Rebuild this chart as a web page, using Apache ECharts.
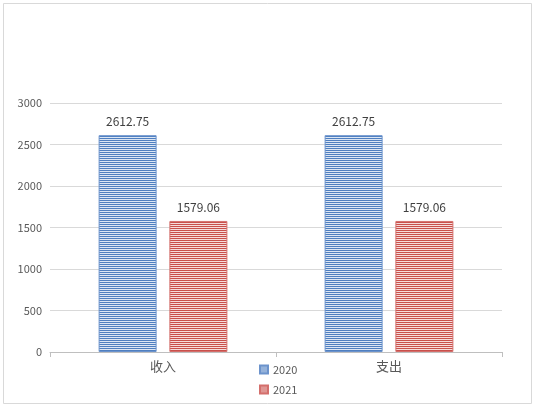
<!DOCTYPE html>
<html><head><meta charset="utf-8">
<script src="https://cdn.jsdelivr.net/npm/echarts@6/dist/echarts.min.js"></script>
<style>html,body{margin:0;padding:0;background:#fff}#c{width:540px;height:408px}</style>
</head><body><div id="c"></div>
<script>
const categories = ['收入', '支出'];
const seriesNames = ['2020', '2021'];
const values2020 = [2612.75, 2612.75];
const values2021 = [1579.06, 1579.06];
const yTicks = [0, 500, 1000, 1500, 2000, 2500, 3000];

function stripe(color, gap) {
  const cv = document.createElement('canvas');
  cv.width = 4; cv.height = 2;
  const g = cv.getContext('2d');
  g.fillStyle = gap; g.fillRect(0, 0, 4, 2);
  g.fillStyle = color; g.fillRect(0, 0, 4, 1);
  return {image: cv, repeat: 'repeat'};
}
const blueFill = stripe('#4F7FC0', '#DCE6F4');
const redFill = stripe('#C9504C', '#F6DCDB');
const font = "'Noto Sans CJK SC', 'Noto Sans', sans-serif";

const chart = echarts.init(document.getElementById('c'), null, {renderer: 'canvas'});
chart.setOption({
  animation: false,
  backgroundColor: '#fff',
  textStyle: {fontFamily: font},
  graphic: [{type: 'rect', shape: {x: 3.5, y: 3.5, width: 528, height: 400}, style: {fill: 'none', stroke: '#D9D9D9', lineWidth: 1}, silent: true}],
  grid: {left: 50, right: 38, top: 103, bottom: 56},
  legend: {
    orient: 'vertical', left: 254, top: 359, itemWidth: 8, itemHeight: 8, itemGap: 9,
    icon: 'rect', data: seriesNames,
    textStyle: {fontSize: 11, color: '#595959', fontFamily: font}
  },
  xAxis: {
    type: 'category', data: categories,
    axisLine: {lineStyle: {color: '#BFBFBF', width: 1}},
    axisTick: {show: true, length: 5, lineStyle: {color: '#BFBFBF'}},
    axisLabel: {fontSize: 13, color: '#595959', margin: 8, fontFamily: font}
  },
  yAxis: {
    type: 'value', min: yTicks[0], max: yTicks[yTicks.length - 1], interval: 500,
    axisLine: {show: false}, axisTick: {show: false},
    splitLine: {lineStyle: {color: '#D9D9D9'}},
    axisLabel: {fontSize: 11, color: '#595959', margin: 8, fontFamily: font, formatter: v => String(v)}
  },
  series: [
    {name: seriesNames[0], type: 'bar', data: values2020, barWidth: 58, barGap: '22%',
     itemStyle: {color: blueFill, borderColor: '#6C93CC', borderWidth: 1},
     label: {show: true, position: 'top', distance: 8, fontSize: 12, color: '#404040', fontFamily: font}},
    {name: seriesNames[1], type: 'bar', data: values2021, barWidth: 58,
     itemStyle: {color: redFill, borderColor: '#D46F6C', borderWidth: 1},
     label: {show: true, position: 'top', distance: 8, fontSize: 12, color: '#404040', fontFamily: font}}
  ]
});
</script></body></html>
